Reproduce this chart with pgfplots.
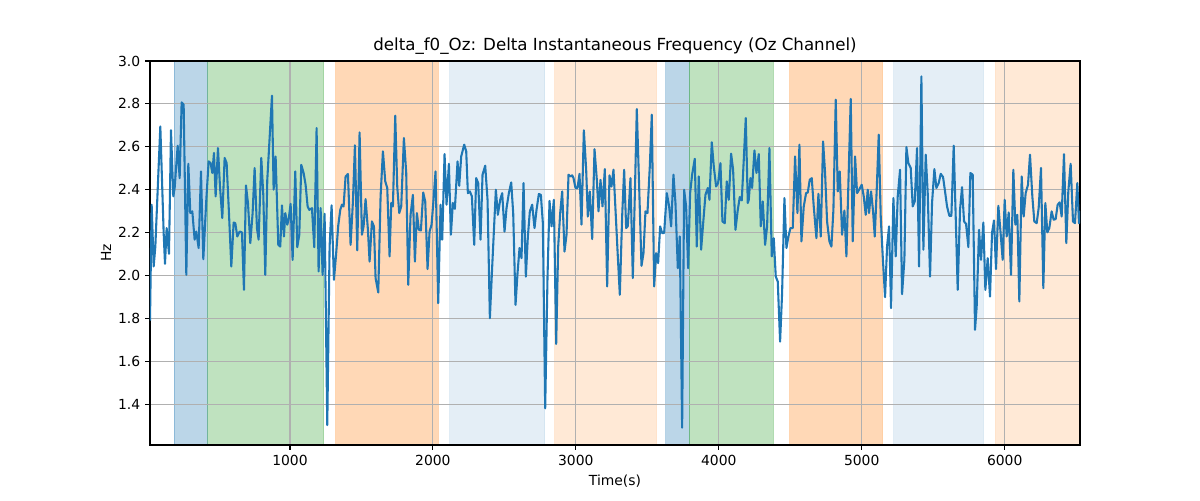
\documentclass[border=0pt]{standalone}
\usepackage{fontspec}
\setmainfont{DejaVu Sans}
\usepackage{pgfplots}
\pgfplotsset{compat=1.18}
\definecolor{tabblue}{RGB}{31,119,180}
\definecolor{taborange}{RGB}{255,127,14}
\definecolor{tabgreen}{RGB}{44,160,44}
\definecolor{gridgray}{RGB}{176,176,176}
\pgfplotsset{
  common/.style={
    at={(0,0)}, anchor=south west,
    width=669.6pt, height=276.5pt, scale only axis,
    xmin=21, xmax=6527, ymin=1.21, ymax=3.0,
  },
  span/.style={forget plot, fill=#1, fill opacity=0.3, draw=#1, draw opacity=0.3, line width=0.7pt},
  lspan/.style 2 args={forget plot, fill=#1, fill opacity=#2, draw=#1, draw opacity=#2, line width=0.7pt},
}
\begin{document}
\begin{tikzpicture}
\path[use as bounding box] (-108pt,-39.6pt) rectangle (756pt,320.4pt);
% background axis: shaded intervals
\begin{axis}[common, hide axis]
\addplot[span=tabblue] coordinates {(189,1.0) (189,3.2) (424,3.2) (424,1.0)} \closedcycle;
\addplot[span=tabgreen] coordinates {(424,1.0) (424,3.2) (1236,3.2) (1236,1.0)} \closedcycle;
\addplot[span=taborange] coordinates {(1322,1.0) (1322,3.2) (2037,3.2) (2037,1.0)} \closedcycle;
\addplot[lspan={tabblue}{0.12}] coordinates {(2119,1.0) (2119,3.2) (2781,3.2) (2781,1.0)} \closedcycle;
\addplot[lspan={taborange}{0.17}] coordinates {(2853,1.0) (2853,3.2) (3564,3.2) (3564,1.0)} \closedcycle;
\addplot[span=tabblue] coordinates {(3629,1.0) (3629,3.2) (3792,3.2) (3792,1.0)} \closedcycle;
\addplot[span=tabgreen] coordinates {(3792,1.0) (3792,3.2) (4382,3.2) (4382,1.0)} \closedcycle;
\addplot[span=taborange] coordinates {(4497,1.0) (4497,3.2) (5145,3.2) (5145,1.0)} \closedcycle;
\addplot[lspan={tabblue}{0.12}] coordinates {(5224,1.0) (5224,3.2) (5851,3.2) (5851,1.0)} \closedcycle;
\addplot[lspan={taborange}{0.17}] coordinates {(5937,1.0) (5937,3.2) (6600,3.2) (6600,1.0)} \closedcycle;
\end{axis}
% main axis
\begin{axis}[
  common,
  xtick={1000,2000,3000,4000,5000,6000},
  ytick={1.4,1.6,1.8,2.0,2.2,2.4,2.6,2.8,3.0},
  /pgf/number format/assume math mode=true,
  xticklabel style={/pgf/number format/.cd, set thousands separator={}},
  yticklabel style={/pgf/number format/.cd, fixed, fixed zerofill, precision=1},
  font=\fontsize{10}{12}\selectfont,
  grid=major,
  major grid style={color=gridgray, line width=0.8pt},
  axis line style={black, line width=0.8pt},
  tick style={black, line width=0.8pt},
  major tick length=3.5pt,
  tick align=outside, tick pos=left,
  title={delta\_f0\_Oz: Delta Instantaneous Frequency (Oz Channel)},
  every axis title/.style={at={(axis description cs:0.5,1.039)}, anchor=center, font=\fontsize{12}{14}\selectfont},
  xlabel={Time(s)},
  every axis x label/.style={at={(axis description cs:0.5,-0.0938)}, anchor=center},
  ylabel={Hz},
  every axis y label/.style={at={(axis description cs:-0.0473,0.5)}, rotate=90, anchor=center},
]
\addplot[color=tabblue, line width=1.5pt, mark=none, line join=round] coordinates {
(21,1.79) (32.6,2.330) (46.6,2.042) (58.3,2.135) (93.2,2.695) (116.6,2.198) (125.9,2.055) (137.5,2.221) (153.9,2.101) (167.8,2.677)
(184.2,2.369) (193.5,2.408) (214.5,2.605) (228.4,2.454) (242.4,2.807) (256.4,2.796) (275.1,2.003) (289.1,2.521) (303.0,2.291) (317.0,2.299)
(333.3,2.167) (345.0,2.205) (361.3,2.128) (377.6,2.485) (394.0,2.076) (414.9,2.353) (431.2,2.532) (445.2,2.524) (456.9,2.478) (468.5,2.571)
(480.2,2.369) (496.5,2.594) (510.5,2.415) (526.8,2.268) (543.1,2.548) (557.1,2.524) (573.4,2.291) (589.8,2.042) (606.1,2.247) (617.7,2.244)
(631.7,2.182) (648.0,2.205) (664.3,2.201) (678.3,1.933) (692.3,2.420) (706.3,2.338) (722.6,2.151) (738.9,2.291) (752.9,2.501) (769.2,2.221)
(780.9,2.167) (799.5,2.548) (813.5,2.377) (827.5,2.003) (841.5,2.446)
(874.2,2.838) (885.8,2.400) (899.8,2.555) (918.5,2.143) (932.4,2.135) (944.1,2.327) (958.1,2.182) (967.4,2.291) (981.4,2.237) (990.7,2.260)
(1004.7,2.334) (1018.7,2.073) (1037.3,2.485) (1051.3,2.132) (1065.3,2.190) (1079.3,2.516) (1095.6,2.478) (1109.6,2.423) (1123.6,2.322) (1135.2,2.306)
(1153.9,2.314) (1170.2,2.132) (1186.5,2.687) (1200.5,2.019) (1214.5,2.314) (1228.5,2.003) (1242.5,2.288) (1261.1,1.303) (1277.4,2.135) (1291.4,2.327)
(1307.7,1.980) (1321.7,2.089) (1338.0,2.233) (1352.0,2.306) (1363.7,2.330) (1375.3,2.322) (1389.3,2.462) (1405.6,2.473) (1424.3,2.143) (1440.6,2.345)
(1454.6,2.607) (1470.9,2.117) (1487.2,2.667) (1503.5,2.190) (1515.2,2.229) (1529.2,2.356) (1545.5,2.213) (1557.2,2.065) (1573.5,2.252) (1587.5,2.229)
(1599.1,1.988) (1617.8,1.921) (1634.1,2.369) (1650.4,2.579) (1666.7,2.439) (1680.7,2.408)
(1697.0,2.089) (1708.6,2.338) (1720.3,2.322) (1736.6,2.745) (1750.6,2.415) (1764.6,2.291) (1778.5,2.322) (1797.2,2.641) (1813.5,2.478) (1827.5,1.957)
(1843.8,2.283) (1860.1,2.376) (1874.1,2.065) (1888.1,2.291) (1902.1,2.213) (1916.1,2.210) (1932.4,2.387) (1946.4,2.345) (1962.7,2.030) (1976.7,2.205)
(1990.7,2.237) (2004.6,2.353) (2018.6,2.485) (2037.3,1.871) (2053.6,2.330) (2065.2,2.167) (2081.6,2.566) (2095.6,2.330) (2111.9,2.521) (2125.9,2.190)
(2139.8,2.338) (2153.8,2.311) (2172.5,2.532) (2184.1,2.418) (2198.1,2.555) (2219.1,2.610) (2233.1,2.579) (2244.7,2.384) (2258.7,2.392) (2272.7,2.369)
(2289.0,2.143) (2303.0,2.454) (2317.0,2.431) (2333.3,2.167) (2347.3,2.470) (2366.0,2.512) (2382.3,2.353) (2398.6,1.801) (2414.9,2.042) (2440.5,2.400)
(2454.5,2.283) (2470.9,2.353) (2484.8,2.384) (2501.2,2.205) (2515.1,2.314)
(2531.5,2.384) (2547.8,2.434) (2561.8,2.291) (2578.1,1.863) (2592.1,2.011) (2606.1,2.128) (2620.1,2.081) (2634.1,2.431) (2650.4,1.995) (2664.4,2.182)
(2678.3,2.299) (2694.7,2.330) (2711.0,2.221) (2725.0,2.306) (2741.3,2.380) (2755.3,2.376) (2769.3,2.244) (2785.6,1.381) (2801.9,1.995) (2815.9,2.348)
(2829.9,2.229) (2846.2,2.353) (2862.5,1.681) (2876.5,2.135) (2890.5,2.291) (2904.5,2.392) (2920.8,2.112) (2934.8,2.190) (2948.8,2.470) (2962.7,2.462)
(2974.4,2.467) (2983.7,2.454) (2997.7,2.408) (3011.7,2.408) (3025.7,2.474) (3039.6,2.237) (3056.0,2.677) (3072.3,2.493) (3083.9,2.275) (3097.9,2.392)
(3114.3,2.170) (3130.6,2.589) (3146.9,2.446) (3158.5,2.299) (3172.5,2.446) (3186.5,2.322) (3202.8,2.496) (3219.1,1.949) (3235.5,2.467) (3249.4,2.415)
(3263.4,2.493) (3279.8,2.275) (3293.7,2.089) (3307.7,1.910) (3324.0,2.275) (3338.0,2.493) (3352.0,2.221)
(3363.6,2.23) (3382.2,2.454) (3398.6,1.988) (3412.5,2.369) (3426.5,2.776) (3442.9,2.415) (3459.2,2.045) (3473.2,2.104) (3487.1,2.299) (3501.1,2.291)
(3517.5,2.509) (3531.4,2.750) (3547.8,1.949) (3561.7,2.104) (3575.7,2.058) (3589.7,2.229) (3603.7,2.198) (3617.7,2.198) (3636.3,2.384) (3652.6,2.322)
(3666.6,2.229) (3682.9,2.470) (3696.9,2.338) (3713.3,2.034) (3727.2,2.182) (3743.6,1.291) (3757.5,2.400) (3771.5,2.322) (3785.5,2.034) (3799.5,2.384)
(3813.5,2.470) (3832.1,2.544) (3846.1,2.135) (3860.1,2.462) (3876.4,2.120) (3892.7,2.260) (3906.7,2.376) (3923.0,2.408) (3934.7,2.353) (3951.0,2.621)
(3965.0,2.509) (3981.3,2.415) (3995.3,2.431) (4011.6,2.524) (4025.6,2.252) (4041.9,2.244) (4055.9,2.439) (4069.9,2.353) (4086.2,2.568) (4100.2,2.493)
(4116.6,2.213) (4132.9,2.306) (4146.9,2.366) (4160.8,2.350) (4174.8,2.540) (4188.8,2.734) (4202.8,2.338)
(4209.8,2.353) (4221.4,2.454) (4233.1,2.408) (4249.4,2.583) (4263.4,2.478) (4279.7,2.566) (4293.7,2.229) (4307.7,2.345) (4324.0,2.143) (4338.0,2.229)
(4354.3,2.594) (4370.6,2.089) (4384.6,2.174) (4398.6,1.995) (4412.6,1.972) (4428.9,1.692) (4442.9,1.918) (4459.2,2.361) (4473.2,2.128) (4487.2,2.182)
(4501.2,2.221) (4517.5,2.221) (4533.8,2.555) (4550.1,2.291) (4564.1,2.610) (4578.1,2.159) (4594.4,2.322) (4610.7,2.384) (4622.4,2.387) (4636.4,2.446)
(4650.3,2.454) (4664.3,2.322) (4683.0,2.174) (4697.0,2.381) (4713.3,2.182) (4729.6,2.625) (4743.6,2.478) (4757.6,2.252) (4773.9,2.159) (4787.9,2.135)
(4801.9,2.306) (4818.2,2.820) (4832.2,2.392) (4846.2,2.485) (4862.5,2.190) (4878.8,2.303) (4892.8,2.089) (4909.1,2.485) (4923.1,2.823) (4937.1,2.159)
(4953.4,2.555) (4967.4,2.384) (4981.4,2.400) (5000.0,2.423) (5014.0,2.369) (5028.0,2.283) (5042.0,2.400)
(5051.3,2.291) (5065.3,2.392) (5079.3,2.299) (5091.0,2.182) (5104.9,2.400) (5118.9,2.656) (5132.9,2.275) (5146.9,2.089) (5163.2,1.899) (5177.2,2.135)
(5191.2,2.229) (5205.2,1.848) (5221.5,2.361) (5237.8,2.089) (5251.8,2.369) (5268.1,2.493) (5282.1,1.913) (5298.4,2.073) (5312.4,2.599) (5326.4,2.524)
(5342.7,2.501) (5356.7,2.322) (5370.7,2.345) (5387.0,2.594) (5401.0,2.042) (5417.3,2.928) (5431.3,2.120) (5447.6,2.563) (5461.6,2.384) (5477.9,1.995)
(5491.9,2.338) (5508.2,2.496) (5522.2,2.408) (5538.5,2.431) (5552.5,2.474) (5568.8,2.459) (5582.8,2.392) (5596.8,2.322) (5613.1,2.278) (5627.1,2.278)
(5643.4,2.605) (5657.4,2.275) (5671.4,1.933) (5687.7,2.306) (5701.7,2.412) (5715.7,2.252) (5729.6,2.241) (5746.0,2.132) (5760.0,2.478) (5776.3,2.470)
(5792.6,1.747) (5804.2,1.856) (5820.6,2.213) (5834.5,2.073) (5850.9,2.247) (5864.9,1.933) (5881.1,2.081)
(5897.4,1.902) (5911.4,2.198) (5925.4,2.257) (5939.4,2.030) (5955.7,2.325) (5969.7,2.213) (5986.0,2.073) (6000.0,2.353) (6014.0,2.182) (6028.0,2.294)
(6044.3,2.003) (6060.6,2.493) (6074.6,2.237) (6088.6,2.283) (6102.5,1.879) (6118.9,2.462) (6132.9,2.275) (6146.8,2.384) (6163.2,2.423) (6177.1,2.563)
(6193.5,2.369) (6207.4,2.252) (6223.8,2.244) (6237.7,2.314) (6254.1,2.501) (6270.4,1.941) (6284.4,2.338) (6298.3,2.201) (6312.3,2.221) (6328.6,2.299)
(6342.6,2.260) (6356.6,2.263) (6370.6,2.330) (6384.6,2.341) (6398.6,2.275) (6414.9,2.566) (6431.2,2.151) (6445.2,2.392) (6461.5,2.521) (6477.9,2.252)
(6491.8,2.244) (6508.2,2.431) (6519.8,2.244) (6527,2.30)
};
\end{axis}
\end{tikzpicture}
\end{document}
